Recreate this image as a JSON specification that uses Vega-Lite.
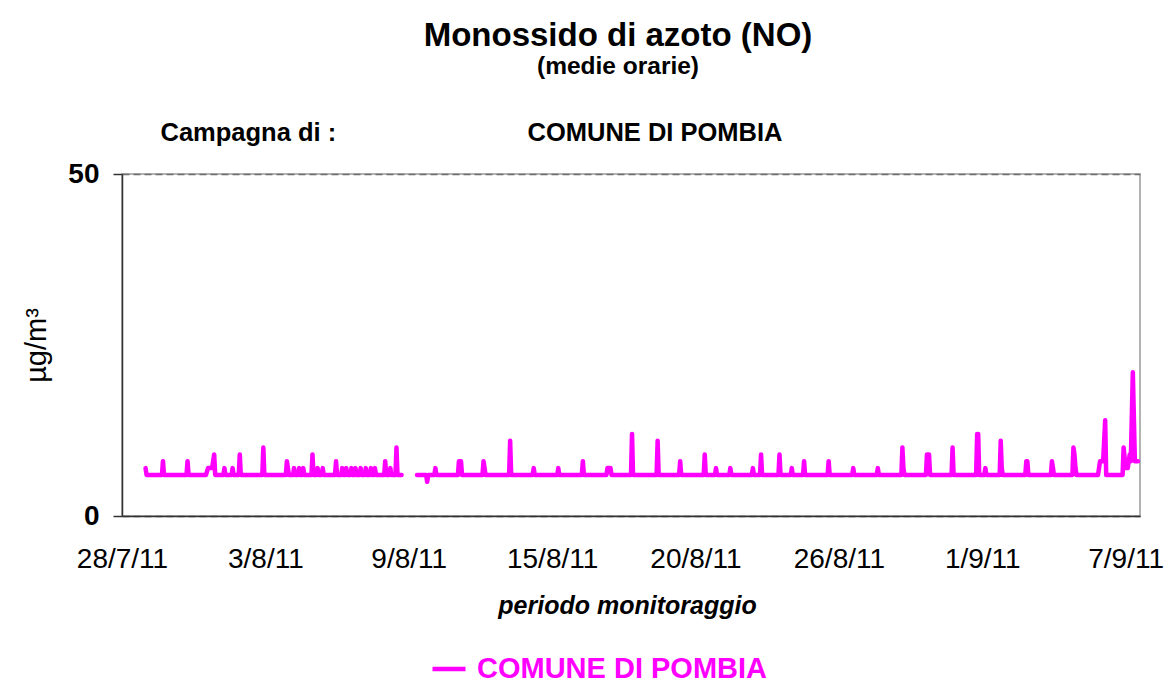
{
  "$schema": "https://vega.github.io/schema/vega-lite/v6.json",
  "width": 1018,
  "height": 342,
  "autosize": "none",
  "padding": {"left": 122, "top": 174, "right": 29, "bottom": 168},
  "background": "white",
  "title": {
    "text": "Monossido di azoto (NO)",
    "subtitle": "(medie orarie)",
    "font": "Liberation Sans",
    "subtitleFont": "Liberation Sans",
    "fontSize": 33,
    "subtitleFontSize": 24.5,
    "fontWeight": "bold",
    "subtitleFontWeight": "bold",
    "color": "black",
    "subtitleColor": "black",
    "anchor": "middle",
    "dx": -13,
    "offset": 42,
    "subtitlePadding": 2
  },
  "config": {
    "font": "Liberation Sans",
    "view": {"stroke": "#9a9a9a", "strokeWidth": 1.5},
    "axis": {"labelColor": "black", "titleColor": "black"}
  },
  "data": {
    "values": [
      {"data": "2011-07-29T12:00", "NO": 7},
      {"data": "2011-07-29T13:00", "NO": 6},
      {"data": "2011-07-30T04:00", "NO": 6},
      {"data": "2011-07-30T05:00", "NO": 8},
      {"data": "2011-07-30T06:00", "NO": 6},
      {"data": "2011-07-31T04:00", "NO": 6},
      {"data": "2011-07-31T05:00", "NO": 8},
      {"data": "2011-07-31T06:00", "NO": 6},
      {"data": "2011-07-31T23:00", "NO": 6},
      {"data": "2011-08-01T01:00", "NO": 7},
      {"data": "2011-08-01T05:00", "NO": 7},
      {"data": "2011-08-01T07:00", "NO": 9},
      {"data": "2011-08-01T08:00", "NO": 6},
      {"data": "2011-08-01T16:00", "NO": 6},
      {"data": "2011-08-01T17:00", "NO": 7},
      {"data": "2011-08-01T18:00", "NO": 6},
      {"data": "2011-08-02T00:00", "NO": 6},
      {"data": "2011-08-02T01:00", "NO": 7},
      {"data": "2011-08-02T02:00", "NO": 6},
      {"data": "2011-08-02T07:00", "NO": 6},
      {"data": "2011-08-02T08:00", "NO": 9},
      {"data": "2011-08-02T09:00", "NO": 6},
      {"data": "2011-08-03T06:00", "NO": 6},
      {"data": "2011-08-03T07:00", "NO": 10},
      {"data": "2011-08-03T08:00", "NO": 6},
      {"data": "2011-08-04T05:00", "NO": 6},
      {"data": "2011-08-04T06:00", "NO": 8},
      {"data": "2011-08-04T07:00", "NO": 7},
      {"data": "2011-08-04T08:00", "NO": 6},
      {"data": "2011-08-04T12:00", "NO": 6},
      {"data": "2011-08-04T13:00", "NO": 7},
      {"data": "2011-08-04T14:00", "NO": 6},
      {"data": "2011-08-04T17:00", "NO": 6},
      {"data": "2011-08-04T18:00", "NO": 7},
      {"data": "2011-08-04T19:00", "NO": 6},
      {"data": "2011-08-04T21:00", "NO": 6},
      {"data": "2011-08-04T22:00", "NO": 7},
      {"data": "2011-08-04T23:00", "NO": 6},
      {"data": "2011-08-05T06:00", "NO": 6},
      {"data": "2011-08-05T07:00", "NO": 9},
      {"data": "2011-08-05T08:00", "NO": 6},
      {"data": "2011-08-05T11:00", "NO": 6},
      {"data": "2011-08-05T12:00", "NO": 7},
      {"data": "2011-08-05T13:00", "NO": 6},
      {"data": "2011-08-05T16:00", "NO": 6},
      {"data": "2011-08-05T17:00", "NO": 7},
      {"data": "2011-08-05T18:00", "NO": 6},
      {"data": "2011-08-06T05:00", "NO": 6},
      {"data": "2011-08-06T06:00", "NO": 8},
      {"data": "2011-08-06T07:00", "NO": 6},
      {"data": "2011-08-06T11:00", "NO": 6},
      {"data": "2011-08-06T12:00", "NO": 7},
      {"data": "2011-08-06T13:00", "NO": 6},
      {"data": "2011-08-06T15:00", "NO": 6},
      {"data": "2011-08-06T16:00", "NO": 7},
      {"data": "2011-08-06T17:00", "NO": 6},
      {"data": "2011-08-06T20:00", "NO": 6},
      {"data": "2011-08-06T21:00", "NO": 7},
      {"data": "2011-08-06T22:00", "NO": 6},
      {"data": "2011-08-07T00:00", "NO": 6},
      {"data": "2011-08-07T01:00", "NO": 7},
      {"data": "2011-08-07T02:00", "NO": 6},
      {"data": "2011-08-07T05:00", "NO": 6},
      {"data": "2011-08-07T06:00", "NO": 7},
      {"data": "2011-08-07T07:00", "NO": 6},
      {"data": "2011-08-07T10:00", "NO": 6},
      {"data": "2011-08-07T11:00", "NO": 7},
      {"data": "2011-08-07T12:00", "NO": 6},
      {"data": "2011-08-07T15:00", "NO": 6},
      {"data": "2011-08-07T16:00", "NO": 7},
      {"data": "2011-08-07T17:00", "NO": 6},
      {"data": "2011-08-07T19:00", "NO": 6},
      {"data": "2011-08-07T20:00", "NO": 7},
      {"data": "2011-08-07T21:00", "NO": 6},
      {"data": "2011-08-08T05:00", "NO": 6},
      {"data": "2011-08-08T06:00", "NO": 8},
      {"data": "2011-08-08T07:00", "NO": 6},
      {"data": "2011-08-08T10:00", "NO": 6},
      {"data": "2011-08-08T11:00", "NO": 7},
      {"data": "2011-08-08T12:00", "NO": 6},
      {"data": "2011-08-08T16:00", "NO": 6},
      {"data": "2011-08-08T17:00", "NO": 10},
      {"data": "2011-08-08T18:00", "NO": 6},
      {"data": "2011-08-08T22:00", "NO": 6},
      {"data": "2011-08-08T23:00", "NO": null},
      {"data": "2011-08-09T13:00", "NO": 6},
      {"data": "2011-08-09T22:00", "NO": 6},
      {"data": "2011-08-09T23:00", "NO": 5},
      {"data": "2011-08-10T00:00", "NO": 6},
      {"data": "2011-08-10T06:00", "NO": 6},
      {"data": "2011-08-10T07:00", "NO": 7},
      {"data": "2011-08-10T08:00", "NO": 6},
      {"data": "2011-08-11T05:00", "NO": 6},
      {"data": "2011-08-11T06:00", "NO": 8},
      {"data": "2011-08-11T08:00", "NO": 8},
      {"data": "2011-08-11T09:00", "NO": 6},
      {"data": "2011-08-12T05:00", "NO": 6},
      {"data": "2011-08-12T06:00", "NO": 8},
      {"data": "2011-08-12T07:00", "NO": 7},
      {"data": "2011-08-12T08:00", "NO": 6},
      {"data": "2011-08-13T07:00", "NO": 6},
      {"data": "2011-08-13T08:00", "NO": 11},
      {"data": "2011-08-13T09:00", "NO": 6},
      {"data": "2011-08-14T06:00", "NO": 6},
      {"data": "2011-08-14T07:00", "NO": 7},
      {"data": "2011-08-14T08:00", "NO": 6},
      {"data": "2011-08-15T06:00", "NO": 6},
      {"data": "2011-08-15T07:00", "NO": 7},
      {"data": "2011-08-15T08:00", "NO": 6},
      {"data": "2011-08-16T06:00", "NO": 6},
      {"data": "2011-08-16T07:00", "NO": 8},
      {"data": "2011-08-16T08:00", "NO": 6},
      {"data": "2011-08-17T06:00", "NO": 6},
      {"data": "2011-08-17T07:00", "NO": 7},
      {"data": "2011-08-17T10:00", "NO": 7},
      {"data": "2011-08-17T11:00", "NO": 6},
      {"data": "2011-08-18T06:00", "NO": 6},
      {"data": "2011-08-18T07:00", "NO": 12},
      {"data": "2011-08-18T08:00", "NO": 6},
      {"data": "2011-08-19T07:00", "NO": 6},
      {"data": "2011-08-19T08:00", "NO": 11},
      {"data": "2011-08-19T09:00", "NO": 6},
      {"data": "2011-08-20T05:00", "NO": 6},
      {"data": "2011-08-20T06:00", "NO": 8},
      {"data": "2011-08-20T07:00", "NO": 6},
      {"data": "2011-08-21T05:00", "NO": 6},
      {"data": "2011-08-21T06:00", "NO": 9},
      {"data": "2011-08-21T07:00", "NO": 6},
      {"data": "2011-08-21T16:00", "NO": 6},
      {"data": "2011-08-21T17:00", "NO": 7},
      {"data": "2011-08-21T18:00", "NO": 6},
      {"data": "2011-08-22T06:00", "NO": 6},
      {"data": "2011-08-22T07:00", "NO": 7},
      {"data": "2011-08-22T08:00", "NO": 6},
      {"data": "2011-08-23T04:00", "NO": 6},
      {"data": "2011-08-23T05:00", "NO": 7},
      {"data": "2011-08-23T06:00", "NO": 6},
      {"data": "2011-08-23T12:00", "NO": 6},
      {"data": "2011-08-23T13:00", "NO": 9},
      {"data": "2011-08-23T14:00", "NO": 6},
      {"data": "2011-08-24T06:00", "NO": 6},
      {"data": "2011-08-24T07:00", "NO": 9},
      {"data": "2011-08-24T08:00", "NO": 6},
      {"data": "2011-08-24T18:00", "NO": 6},
      {"data": "2011-08-24T19:00", "NO": 7},
      {"data": "2011-08-24T20:00", "NO": 6},
      {"data": "2011-08-25T06:00", "NO": 6},
      {"data": "2011-08-25T07:00", "NO": 8},
      {"data": "2011-08-25T08:00", "NO": 6},
      {"data": "2011-08-26T06:00", "NO": 6},
      {"data": "2011-08-26T07:00", "NO": 8},
      {"data": "2011-08-26T08:00", "NO": 6},
      {"data": "2011-08-27T06:00", "NO": 6},
      {"data": "2011-08-27T07:00", "NO": 7},
      {"data": "2011-08-27T08:00", "NO": 6},
      {"data": "2011-08-28T06:00", "NO": 6},
      {"data": "2011-08-28T07:00", "NO": 7},
      {"data": "2011-08-28T08:00", "NO": 6},
      {"data": "2011-08-29T06:00", "NO": 6},
      {"data": "2011-08-29T07:00", "NO": 10},
      {"data": "2011-08-29T08:00", "NO": 7},
      {"data": "2011-08-29T09:00", "NO": 6},
      {"data": "2011-08-30T06:00", "NO": 6},
      {"data": "2011-08-30T07:00", "NO": 9},
      {"data": "2011-08-30T09:00", "NO": 9},
      {"data": "2011-08-30T10:00", "NO": 6},
      {"data": "2011-08-31T07:00", "NO": 6},
      {"data": "2011-08-31T08:00", "NO": 10},
      {"data": "2011-08-31T09:00", "NO": 6},
      {"data": "2011-09-01T07:00", "NO": 6},
      {"data": "2011-09-01T08:00", "NO": 12},
      {"data": "2011-09-01T09:00", "NO": 12},
      {"data": "2011-09-01T10:00", "NO": 6},
      {"data": "2011-09-01T15:00", "NO": 6},
      {"data": "2011-09-01T16:00", "NO": 7},
      {"data": "2011-09-01T17:00", "NO": 6},
      {"data": "2011-09-02T06:00", "NO": 6},
      {"data": "2011-09-02T07:00", "NO": 11},
      {"data": "2011-09-02T08:00", "NO": 7},
      {"data": "2011-09-02T09:00", "NO": 6},
      {"data": "2011-09-03T07:00", "NO": 6},
      {"data": "2011-09-03T08:00", "NO": 8},
      {"data": "2011-09-03T09:00", "NO": 8},
      {"data": "2011-09-03T10:00", "NO": 6},
      {"data": "2011-09-04T08:00", "NO": 6},
      {"data": "2011-09-04T09:00", "NO": 8},
      {"data": "2011-09-04T10:00", "NO": 7},
      {"data": "2011-09-04T11:00", "NO": 6},
      {"data": "2011-09-05T05:00", "NO": 6},
      {"data": "2011-09-05T06:00", "NO": 10},
      {"data": "2011-09-05T07:00", "NO": 9},
      {"data": "2011-09-05T08:00", "NO": 7},
      {"data": "2011-09-05T09:00", "NO": 6},
      {"data": "2011-09-06T06:00", "NO": 6},
      {"data": "2011-09-06T08:00", "NO": 8},
      {"data": "2011-09-06T11:00", "NO": 8},
      {"data": "2011-09-06T13:00", "NO": 14},
      {"data": "2011-09-06T14:00", "NO": 6},
      {"data": "2011-09-07T06:00", "NO": 6},
      {"data": "2011-09-07T07:00", "NO": 10},
      {"data": "2011-09-07T09:00", "NO": 7},
      {"data": "2011-09-07T11:00", "NO": 7},
      {"data": "2011-09-07T13:00", "NO": 9},
      {"data": "2011-09-07T14:00", "NO": 8},
      {"data": "2011-09-07T16:00", "NO": 21},
      {"data": "2011-09-07T18:00", "NO": 8},
      {"data": "2011-09-07T21:00", "NO": 8}
    ]
  },
  "layer": [
    {
      "mark": {"type": "line", "strokeWidth": 4.5, "strokeJoin": "round", "strokeCap": "round", "invalid": "break-paths-show-domains", "clip": false},
      "encoding": {
        "x": {
          "field": "data",
          "type": "temporal",
          "scale": {"domain": [
            {"year": 2011, "month": 7, "date": 28, "hours": 13},
            {"year": 2011, "month": 9, "date": 7, "hours": 23}
          ]},
          "axis": {
            "orient": "bottom",
            "values": [
              {"year": 2011, "month": 7, "date": 28, "hours": 13},
              {"year": 2011, "month": 8, "date": 3, "hours": 9},
              {"year": 2011, "month": 8, "date": 9, "hours": 5},
              {"year": 2011, "month": 8, "date": 15, "hours": 1},
              {"year": 2011, "month": 8, "date": 20, "hours": 21},
              {"year": 2011, "month": 8, "date": 26, "hours": 17},
              {"year": 2011, "month": 9, "date": 1, "hours": 13},
              {"year": 2011, "month": 9, "date": 7, "hours": 9}
            ],
            "format": "%-d/%-m/%y",
            "labelFontSize": 28,
            "labelFont": "Liberation Sans",
            "labelFlush": false,
            "labelOverlap": false,
            "labelPadding": 29,
            "ticks": false,
            "grid": false,
            "domainColor": "#333333",
            "domainWidth": 1.5,
            "zindex": 1,
            "title": "periodo monitoraggio",
            "titleFont": "Liberation Sans",
            "titleFontSize": 25,
            "titleFontWeight": "bold",
            "titleFontStyle": "italic",
            "titleBaseline": "alphabetic",
            "titleX": 505,
            "titleY": 97
          }
        },
        "y": {
          "field": "NO",
          "type": "quantitative",
          "scale": {"domain": [0, 50], "nice": false},
          "axis": {
            "values": [0, 50],
            "title": "µg/m³",
            "titleFont": "Liberation Sans",
            "titleFontSize": 29,
            "titleFontWeight": "normal",
            "titlePadding": 16,
            "labelFont": "Liberation Sans",
            "labelFontSize": 28,
            "labelFontWeight": "bold",
            "labelPadding": 14,
            "tickSize": 9,
            "tickColor": "#333333",
            "tickWidth": 1.5,
            "domainColor": "#333333",
            "domainWidth": 1.5,
            "grid": true,
            "gridColor": "#6e6e6e",
            "gridDash": [7, 4],
            "gridWidth": 1.5
          }
        },
        "color": {
          "datum": "COMUNE DI POMBIA",
          "type": "nominal",
          "scale": {"range": ["#FF00FF"]},
          "legend": {
            "orient": "none",
            "legendX": 308,
            "legendY": 476,
            "direction": "horizontal",
            "title": null,
            "padding": 0,
            "symbolType": "stroke",
            "symbolSize": 1089,
            "symbolStrokeWidth": 4.5,
            "symbolStrokeColor": "#FF00FF",
            "labelFont": "Liberation Sans",
            "labelFontSize": 29,
            "labelFontWeight": "bold",
            "labelColor": "#FF00FF",
            "labelOffset": 9,
            "labelLimit": 0
          }
        }
      }
    },
    {
      "mark": {"type": "line", "opacity": 0, "invalid": "break-paths-show-domains"},
      "encoding": {
        "x": {
          "field": "data",
          "type": "temporal",
          "axis": {
            "orient": "top",
            "labels": false,
            "ticks": false,
            "domain": false,
            "grid": false,
            "title": "Campagna di :\u00a0\u00a0\u00a0\u00a0\u00a0\u00a0\u00a0\u00a0\u00a0\u00a0\u00a0\u00a0\u00a0\u00a0\u00a0\u00a0\u00a0\u00a0\u00a0\u00a0\u00a0\u00a0\u00a0\u00a0\u00a0\u00a0\u00a0COMUNE DI POMBIA",
            "titleFont": "Liberation Sans",
            "titleFontSize": 25.5,
            "titleFontWeight": "bold",
            "titleAnchor": "start",
            "titleAlign": "left",
            "titleBaseline": "alphabetic",
            "titleX": 38,
            "titleY": -34
          }
        },
        "y": {"field": "NO", "type": "quantitative"}
      }
    }
  ],
  "resolve": {"axis": {"x": "independent"}}
}
